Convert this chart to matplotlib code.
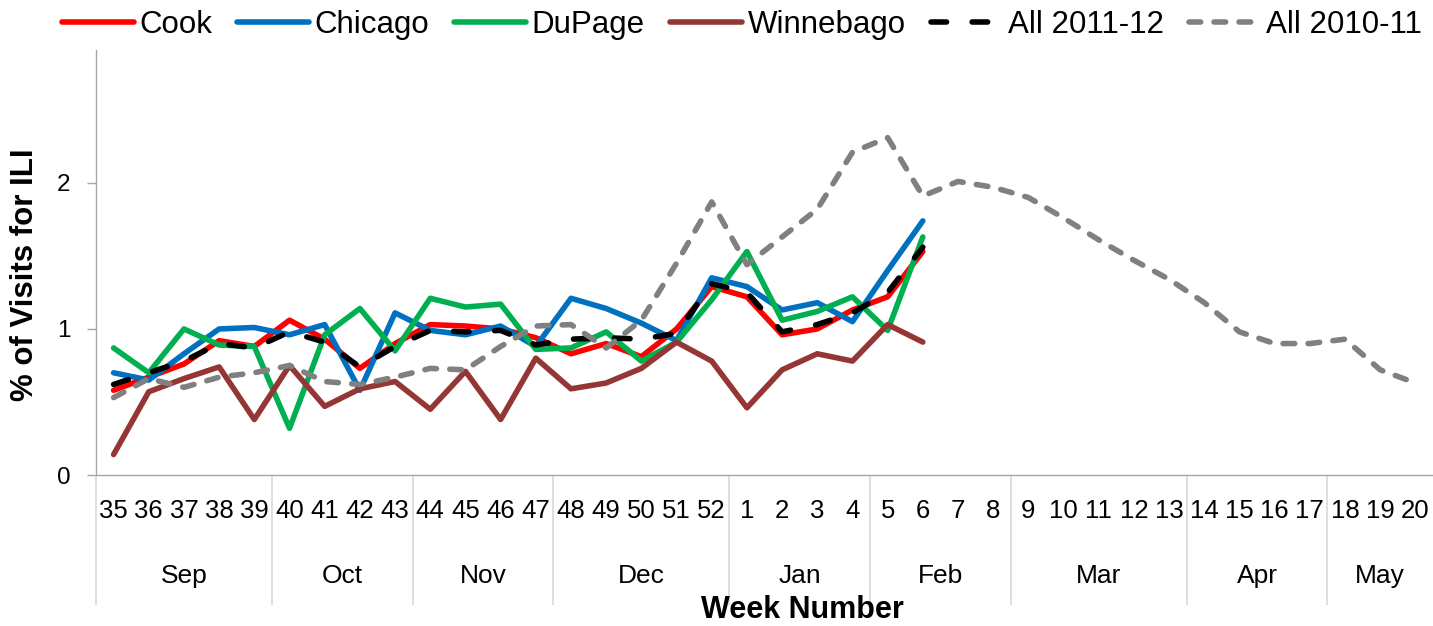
import numpy as np
import matplotlib as mpl
mpl.use("Agg")
import matplotlib.pyplot as plt

plt.rcParams["font.family"] = ["Liberation Sans", "DejaVu Sans"]

# week axis: 35..52 of 2011, then 1..20 of 2012
WEEKS = list(range(35, 53)) + list(range(1, 21))
MONTHS = ["Sep", "Oct", "Nov", "Dec", "Jan", "Feb", "Mar", "Apr", "May"]
MONTH_WEEKS = [5, 4, 4, 5, 4, 4, 5, 4, 3]

# % of visits for ILI
cook = [0.58, 0.67, 0.76, 0.92, 0.88, 1.06, 0.93, 0.73, 0.90, 1.03, 1.02, 1.00,
        0.94, 0.83, 0.90, 0.81, 1.00, 1.29, 1.22, 0.96, 1.00, 1.13, 1.22, 1.53]
chicago = [0.70, 0.65, 0.83, 1.00, 1.01, 0.96, 1.03, 0.58, 1.11, 0.99, 0.96, 1.02,
           0.88, 1.21, 1.14, 1.04, 0.92, 1.35, 1.29, 1.13, 1.18, 1.05, 1.40, 1.74]
dupage = [0.87, 0.70, 1.00, 0.89, 0.88, 0.32, 0.96, 1.14, 0.85, 1.21, 1.15, 1.17,
          0.86, 0.87, 0.98, 0.78, 0.91, 1.20, 1.53, 1.06, 1.12, 1.22, 0.99, 1.63]
winnebago = [0.14, 0.57, 0.66, 0.74, 0.38, 0.75, 0.47, 0.59, 0.64, 0.45, 0.71, 0.38,
             0.80, 0.59, 0.63, 0.73, 0.91, 0.78, 0.46, 0.72, 0.83, 0.78, 1.03, 0.91]
all_1112 = [0.62, 0.70, 0.78, 0.90, 0.87, 0.98, 0.91, 0.74, 0.88, 0.99, 0.98, 0.99,
            0.89, 0.93, 0.94, 0.93, 0.97, 1.31, 1.25, 0.98, 1.03, 1.11, 1.25, 1.56]
all_1011 = [0.53, 0.66, 0.60, 0.67, 0.70, 0.75, 0.64, 0.62, 0.67, 0.73, 0.72, 0.88,
            1.02, 1.03, 0.87, 1.06, 1.45, 1.87, 1.44, 1.63, 1.82, 2.21, 2.31, 1.91,
            2.01, 1.97, 1.90, 1.76, 1.61, 1.47, 1.34, 1.18, 0.98, 0.90, 0.90, 0.93,
            0.72, 0.63]

SERIES = [
    ("Cook", cook, "#FF0000", None),
    ("Chicago", chicago, "#0070C0", None),
    ("DuPage", dupage, "#00B050", None),
    ("Winnebago", winnebago, "#943634", None),
    ("All 2011-12", all_1112, "#000000", (2.8, 4.6)),
    ("All 2010-11", all_1011, "#808080", (2.1, 2.4)),
]

AXIS_GREY = "#A6A6A6"
SEP_GREY = "#D9D9D9"
LW = 4.0

fig = plt.figure(figsize=(14.33, 6.26), dpi=100)
ax = fig.add_axes([96 / 1433, 151 / 626, 1 - 96 / 1433, 425 / 626])

for name, vals, color, dashes in SERIES:
    x = np.arange(len(vals))
    kw = dict(color=color, lw=LW, label=name, solid_capstyle="round",
              dash_capstyle="round", solid_joinstyle="round", dash_joinstyle="round")
    if dashes is not None:
        kw["dashes"] = dashes
    ax.plot(x, vals, **kw)

ax.set_xlim(-0.5, len(WEEKS) - 0.5)
ax.set_ylim(0, 2.91)
ax.set_yticks([0, 1, 2])
ax.tick_params(axis="y", length=6.5, width=1, color=AXIS_GREY, labelsize=17.5, pad=12)

# week numbers as tick labels, no tick marks
ax.set_xticks(np.arange(len(WEEKS)))
ax.set_xticklabels([str(w) for w in WEEKS])
ax.tick_params(axis="x", length=0, labelsize=18.5, pad=17)

for s in ("top", "right"):
    ax.spines[s].set_visible(False)
for s in ("left", "bottom"):
    ax.spines[s].set_color(AXIS_GREY)
    ax.spines[s].set_linewidth(1)

# month group labels and separators below the week numbers
trans = ax.get_xaxis_transform()
edges = np.concatenate([[0], np.cumsum(MONTH_WEEKS)]) - 0.5
ax.vlines(edges[:-1], -0.306, 0, transform=trans, colors=SEP_GREY, lw=1.2, clip_on=False)
for m, lo, hi in zip(MONTHS, edges[:-1], edges[1:]):
    ax.text((lo + hi) / 2, -0.237, m, transform=trans, ha="center", va="center",
            fontsize=19)

fig.text(25 / 1433, 1 - 275 / 626, "% of Visits for ILI", rotation=90, ha="center",
         va="center", fontsize=22.5, fontweight="bold")
fig.text(802 / 1433, 1.5 / 626, "Week Number", ha="center", va="bottom",
         fontsize=22, fontweight="bold")

fig.legend(loc="center", bbox_to_anchor=(742 / 1433, 1 - 25 / 626), ncol=6,
           frameon=False, fontsize=22.5, handlelength=2.3, handletextpad=0.18,
           columnspacing=0.8, borderpad=0, borderaxespad=0)

fig.savefig("out.png", dpi=100)
